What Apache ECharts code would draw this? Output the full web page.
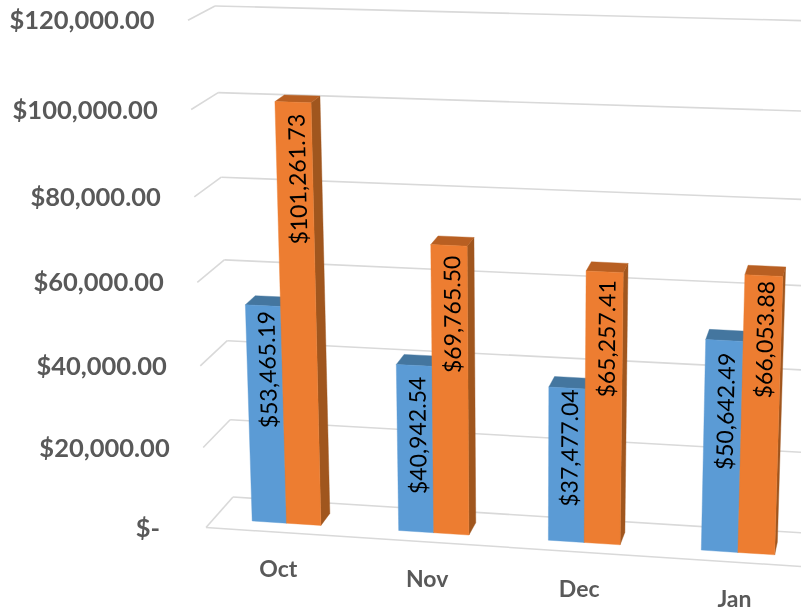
<!DOCTYPE html>
<html><head><meta charset="utf-8">
<style>html,body{margin:0;padding:0;background:#fff}#c{width:801px;height:611px;filter:blur(0.45px)}</style>
<script src="https://cdn.jsdelivr.net/npm/echarts@6/dist/echarts.min.js"></script>
</head><body><div id="c"></div>
<script>
const categories = ['Oct','Nov','Dec','Jan'];
const seriesA = [53465.19,40942.54,37477.04,50642.49];
const seriesB = [101261.73,69765.50,65257.41,66053.88];
const tickValues = [0,20000,40000,60000,80000,100000,120000];
const tickLabels = ['$-  ','$20,000.00','$40,000.00','$60,000.00','$80,000.00','$100,000.00','$120,000.00'];

const money = v => '$' + v.toLocaleString('en-US',{minimumFractionDigits:2,maximumFractionDigits:2});

// Perspective of the 3D plot box: unit plot coordinates -> page, for bar-front plane and back wall
function quad(p){
  const [x0,y0]=p[0],[x1,y1]=p[1],[x2,y2]=p[2],[x3,y3]=p[3];
  const dx1=x1-x2,dx2=x3-x2,sx=x0-x1+x2-x3,dy1=y1-y2,dy2=y3-y2,sy=y0-y1+y2-y3;
  const den=dx1*dy2-dx2*dy1, g=(sx*dy2-dx2*sy)/den, h=(dx1*sy-sx*dy1)/den;
  const a=x1-x0+g*x1,b=x3-x0+h*x3,d=y1-y0+g*y1,e=y3-y0+h*y3;
  return (s,t)=>{const w=g*s+h*t+1;return [(a*s+b*t+x0)/w,(d*s+e*t+y0)/w];};
}
const frontPlane = quad([[214,518.5],[816,557.5],[834,34],[196,16]]);
const backPlane  = quad([[233,497],[820,534],[838,21.5],[215,6]]);
const warp = t => t - 0.01*t*(1-t);
function project(s,t,z){
  const a=frontPlane(s,warp(t)),b=backPlane(s,warp(t));
  return [a[0]+(b[0]-a[0])*z,a[1]+(b[1]-a[1])*z];
}
const Z_FLOOR_FRONT=-0.42, Z_BAR_BACK=0.55;
const unit=(params,api,cat,val)=>{
  const cs=params.coordSys, c=api.coord([cat,val]);
  return [(c[0]-cs.x)/cs.width,(cs.y+cs.height-c[1])/cs.height];
};
const AXIS_FONT='bold 25.5px Lato, "Open Sans", sans-serif';
const CAT_FONT='bold 23px Lato, "Open Sans", sans-serif';
const VAL_FONT='23px Lato, "Open Sans", sans-serif';
const GRID='#D9D9D9';
const line=(a,b,w)=>({type:'line',shape:{x1:a[0],y1:a[1],x2:b[0],y2:b[1]},style:{stroke:GRID,lineWidth:w||1.6}});
const poly=(pts,fill)=>({type:'polygon',shape:{points:pts},style:{fill:fill,stroke:fill,lineWidth:0.4}});

function gridItem(params,api){
  const i=params.dataIndex, v=api.value(1);
  const [,t]=unit(params,api,0,v);
  const kids=[
    line(project(0,t,Z_FLOOR_FRONT),project(0,t,1)),
    line(project(0,t,1),project(1,t,1))
  ];
  if(v===0) kids.push(line(project(0,t,Z_FLOOR_FRONT),project(1,t,Z_FLOOR_FRONT)));
  const end=project(0,t,Z_FLOOR_FRONT);
  kids.push({type:'text',x:end[0]-33.5,y:end[1]-1,style:{text:tickLabels[i],font:AXIS_FONT,fill:'#595959',align:'right',verticalAlign:'middle'}});
  return {type:'group',children:kids};
}
function catItem(params,api){
  const i=api.value(0);
  const [s]=unit(params,api,i,0);
  const p=project(s,0,Z_FLOOR_FRONT);
  return {type:'text',x:p[0]-1,y:p[1]+36,style:{text:categories[i],font:CAT_FONT,fill:'#595959',align:'center',verticalAlign:'middle'}};
}
const BAR_FRAC=0.236;
const labelDrop=[[64,70,60,71],[77,69,67,64]];
function barItem(side,front,top,dark){
  return function(params,api){
    const i=api.value(0), v=api.value(1);
    const [sc,t]=unit(params,api,i,v);
    const w=(api.size([1,0])[0]/params.coordSys.width)*BAR_FRAC;
    const sL=side===0?sc-w:sc, sR=side===0?sc:sc+w;
    const bl=project(sL,0,0),br=project(sR,0,0),tl=project(sL,t,0),tr=project(sR,t,0);
    const blb=project(sR,0,Z_BAR_BACK),trb=project(sR,t,Z_BAR_BACK),tlb=project(sL,t,Z_BAR_BACK);
    const mt=[(tl[0]+tr[0])/2,(tl[1]+tr[1])/2], mb=[(bl[0]+br[0])/2,(bl[1]+br[1])/2];
    const lean=Math.atan2(mb[0]-mt[0],mb[1]-mt[1]);
    const ly=mt[1]+labelDrop[side][i];
    const lx=mt[0]+(mb[0]-mt[0])*(ly-mt[1])/(mb[1]-mt[1])+2;
    return {type:'group',children:[
      poly([br,blb,trb,tr],dark),
      poly([tl,tr,trb,tlb],top),
      poly([bl,br,tr,tl],front),
      {type:'text',x:lx,y:ly,rotation:Math.PI/2+lean,
       style:{text:money(v),font:VAL_FONT,fill:'#000',align:'center',verticalAlign:'middle'}}
    ]};
  };
}
const chart=echarts.init(document.getElementById('c'),null,{renderer:'svg',width:801,height:611});
chart.setOption({
  animation:false,
  backgroundColor:'#fff',
  grid:{left:214,top:16,width:602,height:502},
  xAxis:{type:'category',data:categories,show:false},
  yAxis:{type:'value',min:0,max:120000,interval:20000,show:false},
  series:[
    {type:'custom',name:'gridlines',clip:false,silent:true,renderItem:gridItem,data:tickValues.map(v=>[0,v])},
    {type:'custom',name:'categories',clip:false,silent:true,renderItem:catItem,data:categories.map((c,i)=>[i,0])},
    {type:'custom',name:'Series A',clip:false,renderItem:barItem(0,'#5B9BD5','#44769F','#3F6F9C'),data:seriesA.map((v,i)=>[i,v])},
    {type:'custom',name:'Series B',clip:false,renderItem:barItem(1,'#ED7D31','#B85F22','#A0561E'),data:seriesB.map((v,i)=>[i,v])}
  ]
});
</script></body></html>
